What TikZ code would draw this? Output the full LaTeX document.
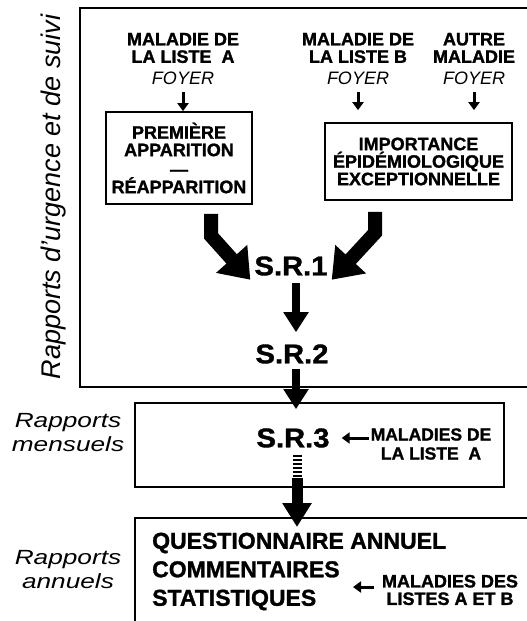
\documentclass[tikz,border=0pt]{standalone}
\usepackage{fontspec}
\setmainfont{Liberation Sans}[BoldFeatures={FakeBold=1.3}]
\usetikzlibrary{arrows.meta,calc}

\begin{document}
\begin{tikzpicture}[x=1pt,y=-1pt,
  frame/.style={line width=1.7pt},
  bx/.style={draw, line width=1.7pt, inner sep=0pt},
  lab/.style={font=\fontsize{18}{17.5}\selectfont\bfseries, align=center, inner sep=0pt},
  srtext/.style={font=\fontsize{27}{27}\selectfont\bfseries, inner sep=0pt, xscale=1.08},
  side/.style={font=\fontsize{20.5}{24}\selectfont\itshape, align=center, inner sep=0pt, xscale=1.28},
  bigarrow/.style={line width=14pt, -{Triangle[length=28pt,width=40pt]}},
  midarrow/.style={line width=8pt, -{Triangle[length=20pt,width=24pt]}},
  smallarrow/.style={line width=3pt, -{Triangle[length=8pt,width=11pt]}},
]
\useasboundingbox (0,0) rectangle (527,621);
\fill[white] (0,0) rectangle (527,621);

% frames
\draw[frame] (545,8) -- (80,8) -- (80,387) -- (545,387);
\node[bx, minimum width=369pt, minimum height=84pt] (box3) at (319.5,445) {};
\draw[frame] (545,518) -- (135,518) -- (135,640);
\coordinate (b4) at (297,518);

% side labels
\node[font=\fontsize{27}{27}\selectfont\itshape, rotate=90, inner sep=0pt] (rv) at (54,197) {Rapports d'urgence et de suivi};
\node[side] (rm) at (68,433) {Rapports\\mensuels};
\node[side] (ra) at (68,570) {Rapports\\annuels};

% top labels
\node[lab] (la) at (183,59) {MALADIE DE\\LA LISTE\ \ A\\[4.5pt]{\mdseries\itshape FOYER}};
\node[lab] (lb) at (358,59) {MALADIE DE\\LA LISTE B\\[4.5pt]{\mdseries\itshape FOYER}};
\node[lab] (lc) at (474,59) {AUTRE\\MALADIE\\[4.5pt]{\mdseries\itshape FOYER}};

% boxes
\node[bx, lab, minimum width=146pt, minimum height=92pt] (box1) at (179,158) {PREMIÈRE\\APPARITION\\[2pt]—\\RÉAPPARITION};
\node[bx, lab, minimum width=187pt, minimum height=77pt] (box2) at (418.5,161.5) {IMPORTANCE\\ÉPIDÉMIOLOGIQUE\\EXCEPTIONNELLE};

\draw[smallarrow] ([yshift=-7pt]la.south) -- (la.south |- box1.north);
\draw[smallarrow] ([yshift=-7pt]lb.south) -- ([yshift=12pt]lb.south |- box2.north);
\draw[smallarrow] ([yshift=-7pt]lc.south) -- ([yshift=12pt]lc.south |- box2.north);

% S.R. nodes
\node[srtext] (sr1) at (291,266) {S.R.1};
\node[srtext] (sr2) at (292,354) {S.R.2};
\node[srtext] (sr3) at (293,438) {S.R.3};

\draw[bigarrow] ([xshift=32pt,yshift=-9pt]box1.south) -- ++(0,22) -- ([xshift=-4pt,yshift=-4pt]sr1.south west);
\draw[bigarrow] ([xshift=-43.5pt,yshift=-11pt]box2.south) -- ++(0,21) -- ([xshift=4pt,yshift=-4pt]sr1.south east);

\draw[midarrow] ([xshift=5pt,yshift=-7pt]sr1.south) -- ([xshift=4pt,yshift=12pt]sr2.north);
\draw[midarrow] ([xshift=4pt,yshift=-5pt]sr2.south) -- ($(sr2.south |- box3.north)+(4,7)$);
\draw[line width=9pt, dash pattern=on 2.5pt off 1.5pt] ([xshift=4pt,yshift=-7pt]sr3.south) -- ($(sr3.south)+(4,30)$);
\draw[line width=11pt, -{Triangle[length=24pt,width=28pt]}] ($(sr3.south)+(4,30)$) -- ($(b4)+(0,9)$);

% right notes
\node[lab, font=\fontsize{17.5}{19}\selectfont\bfseries] (m1) at (431,444) {MALADIES DE\\LA LISTE\ \ A};
\draw[smallarrow] ([xshift=-2pt]sr3.east -| m1.west) -- ([xshift=12pt]sr3.east);

\node[font=\fontsize{23}{28.5}\selectfont\bfseries, align=left, inner sep=0pt, anchor=west] (qa) at (152,571.5) {QUESTIONNAIRE ANNUEL\\COMMENTAIRES\\STATISTIQUES};
\node[lab] (m2) at (450,590) {MALADIES DES\\LISTES A ET B};
\coordinate (a2) at (353,587);
\draw[smallarrow] ([xshift=-8pt]m2.west |- a2) -- (a2);
\end{tikzpicture}
\end{document}
